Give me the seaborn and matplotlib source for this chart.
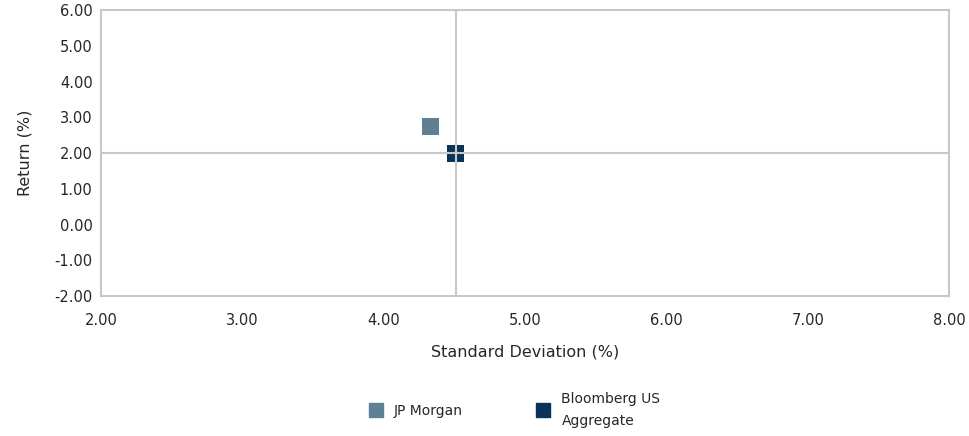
import matplotlib
matplotlib.use('Agg')
import matplotlib.pyplot as plt
import seaborn as sns
import pandas as pd

# Risk / return data
managers = ["JP Morgan", "Bloomberg US\nAggregate"]
std_dev = [4.33, 4.51]
returns = [2.75, 2.00]
colors = ["#5F7F95", "#0B3357"]

# crosshair at the benchmark
bench_x = 4.51
bench_y = 2.00

x_ticks = [2.0, 3.0, 4.0, 5.0, 6.0, 7.0, 8.0]
y_ticks = [-2.0, -1.0, 0.0, 1.0, 2.0, 3.0, 4.0, 5.0, 6.0]

df = pd.DataFrame({"manager": managers, "std": std_dev, "ret": returns})

sns.set_style("white")
plt.rcParams['font.family'] = ['DejaVu Sans']
text_color = "#262626"
grid_color = "#C8C8C8"
fs = 10.5

fig = plt.figure(figsize=(9.7, 4.36), dpi=100)
ax = fig.add_axes([0.1041, 0.3211, 0.8743, 0.6559])

sns.scatterplot(data=df, x="std", y="ret", hue="manager", palette=colors,
                marker="s", s=150, linewidth=0, ax=ax, zorder=2, legend=False)

ax.axvline(bench_x, color=grid_color, lw=1.5, zorder=3)
ax.axhline(bench_y, color=grid_color, lw=1.5, zorder=3)

ax.set_xlim(x_ticks[0], x_ticks[-1])
ax.set_ylim(y_ticks[0], y_ticks[-1])
ax.set_xticks(x_ticks)
ax.set_yticks(y_ticks)
ax.set_xticklabels([f"{v:.2f}" for v in x_ticks], fontsize=fs, color=text_color)
ax.set_yticklabels([f"{v:.2f}" for v in y_ticks], fontsize=fs, color=text_color)
ax.tick_params(axis="x", length=0, pad=12)
ax.tick_params(axis="y", length=0, pad=6)
ax.set_xlabel("Standard Deviation (%)", fontsize=11.5, color=text_color, labelpad=12)
ax.set_ylabel("Return (%)", fontsize=11.5, color=text_color, labelpad=16)

for sp in ax.spines.values():
    sp.set_color(grid_color)
    sp.set_linewidth(1.5)

handles = [plt.Line2D([], [], marker="s", ls="", color=c, markersize=10)
           for c in colors]
leg = fig.legend(handles, managers, loc="center", bbox_to_anchor=(0.527, 0.06),
                 ncol=2, frameon=False, fontsize=10, handletextpad=0.3,
                 columnspacing=4.8, labelcolor=text_color)
for t in leg.get_texts():
    t.set_linespacing(1.75)

fig.savefig("out.png", dpi=100)
